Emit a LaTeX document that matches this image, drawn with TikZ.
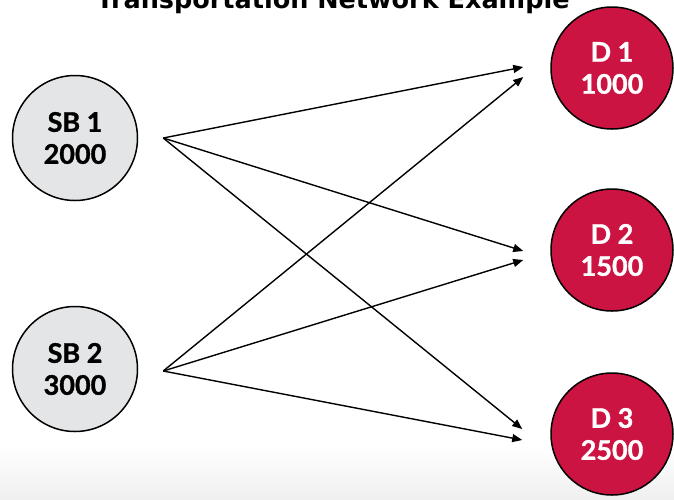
\documentclass[tikz,border=0pt]{standalone}
\usepackage{fontspec}
\setmainfont{Lato}[BoldFeatures={FakeBold=1.2}]
\newfontfamily\titlefont{DejaVu Sans}
\usetikzlibrary{arrows.meta,positioning}

\definecolor{sbgray}{HTML}{E4E5E7}
\definecolor{dred}{HTML}{CC1442}

\begin{document}
\begin{tikzpicture}[x=1pt,y=-1pt,
    source_node/.style={circle,draw,line width=1.5pt,fill=sbgray,minimum size=125pt,inner sep=0,align=center,
        font=\bfseries\fontsize{27}{32}\selectfont},
    demand_node/.style={circle,draw,line width=1.5pt,fill=dred,text=white,minimum size=122pt,inner sep=0,align=center,
        font=\bfseries\fontsize{27}{32}\selectfont},
    flow/.style={line width=1.4pt,-{Triangle[length=10pt,width=8pt]}}]
    \useasboundingbox (0,0) rectangle (674,499);
    \clip (0,0) rectangle (674,499);
    % faint shade at the bottom
    \shade[top color=white,bottom color=black!6] (0,445) rectangle (674,499);
    \node[font=\titlefont\bfseries\fontsize{25.5}{30}\selectfont,anchor=base] (title) at (333,8) {Transportation Network Example};
    \node[source_node] (SB1) at (75,138) {SB 1\\2000};
    \node[source_node] (SB2) at (75,369) {SB 2\\3000};
    \node[demand_node] (D1) at (612,68) {D 1\\1000};
    \node[demand_node] (D2) at (612,250) {D 2\\1500};
    \node[demand_node] (D3) at (612,434) {D 3\\2500};
    \coordinate (o1) at ([xshift=25pt]SB1.east);
    \coordinate (o2) at ([xshift=25pt,yshift=-2pt]SB2.east);
    \coordinate (i11) at ([xshift=-27pt,yshift=1pt]D1.west);
    \coordinate (i21) at ([xshift=-27pt,yshift=-9pt]D1.west);
    \coordinate (i12) at ([xshift=-27pt,yshift=-1pt]D2.west);
    \coordinate (i22) at ([xshift=-27pt,yshift=-10pt]D2.west);
    \coordinate (i13) at ([xshift=-28pt,yshift=5pt]D3.west);
    \coordinate (i23) at ([xshift=-28pt,yshift=-6pt]D3.west);
    \draw[flow] (o1) -- (i11);
    \draw[flow] (o1) -- (i12);
    \draw[flow] (o1) -- (i13);
    \draw[flow] (o2) -- (i21);
    \draw[flow] (o2) -- (i22);
    \draw[flow] (o2) -- (i23);
\end{tikzpicture}
\end{document}
